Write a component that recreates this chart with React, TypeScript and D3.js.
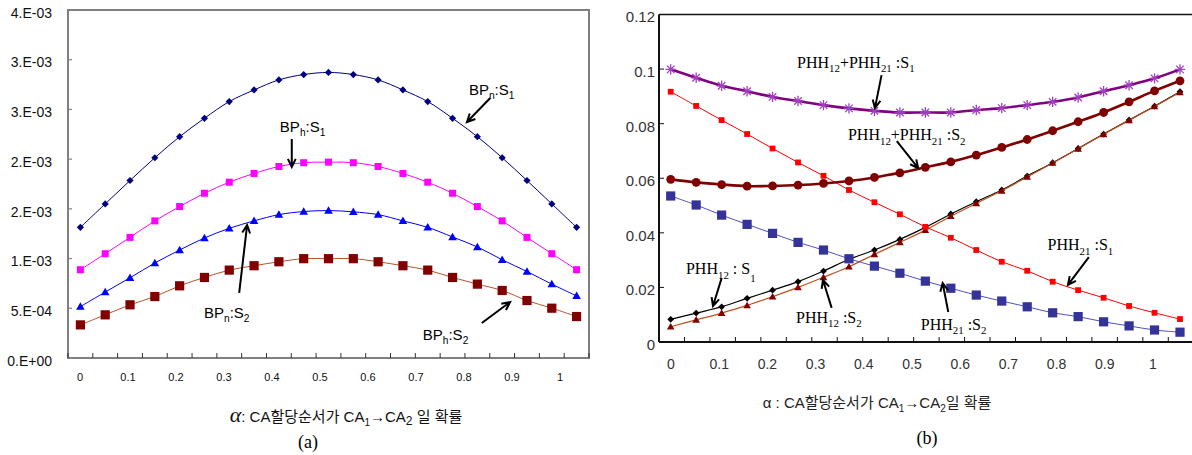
import React from 'react'
import * as d3 from 'd3'

// alpha values (categories) shared by both panels
const alpha = [0, 0.05, 0.1, 0.15, 0.2, 0.25, 0.3, 0.35, 0.4, 0.45, 0.5, 0.55, 0.6, 0.65, 0.7, 0.75, 0.8, 0.85, 0.9, 0.95, 1]
const xTickValues = [0, 0.1, 0.2, 0.3, 0.4, 0.5, 0.6, 0.7, 0.8, 0.9, 1]
const xTickLabels = ['0', '0.1', '0.2', '0.3', '0.4', '0.5', '0.6', '0.7', '0.8', '0.9', '1']

// panel (a), values in units of 1e-3
const bpnS1 = [1.314, 1.55, 1.785, 2.014, 2.226, 2.411, 2.579, 2.696, 2.797, 2.851, 2.872, 2.851, 2.797, 2.696, 2.579, 2.411, 2.226, 2.014, 1.785, 1.55, 1.314]
const bphS1 = [0.888, 1.049, 1.213, 1.379, 1.523, 1.657, 1.768, 1.856, 1.926, 1.964, 1.97, 1.964, 1.926, 1.856, 1.768, 1.657, 1.523, 1.379, 1.213, 1.049, 0.888]
const bpnS2 = [0.517, 0.663, 0.807, 0.955, 1.086, 1.207, 1.304, 1.379, 1.442, 1.473, 1.483, 1.47, 1.442, 1.379, 1.314, 1.217, 1.117, 0.988, 0.87, 0.743, 0.625]
const bphS2 = [0.333, 0.434, 0.535, 0.618, 0.726, 0.81, 0.884, 0.928, 0.968, 0.999, 0.999, 0.999, 0.968, 0.928, 0.884, 0.81, 0.743, 0.679, 0.578, 0.501, 0.417]
const leftYTicks = [0, 0.5, 1, 1.5, 2, 2.5, 3, 3.5]
const leftYLabels = ['0.E+00', '5.E-04', '1.E-03', '2.E-03', '2.E-03', '3.E-03', '3.E-03', '4.E-03']

// panel (b)
const phhSumS1 = [0.0999, 0.0968, 0.0939, 0.0919, 0.0898, 0.0883, 0.0868, 0.0856, 0.0847, 0.0841, 0.0841, 0.0841, 0.085, 0.0857, 0.0868, 0.088, 0.0896, 0.0919, 0.0941, 0.0966, 0.0999]
const phh21S1 = [0.0917, 0.0865, 0.0813, 0.0762, 0.0709, 0.0658, 0.0609, 0.0557, 0.0512, 0.0468, 0.0422, 0.0382, 0.0337, 0.0294, 0.0261, 0.0221, 0.019, 0.0162, 0.0132, 0.0107, 0.0084]
const phhSumS2 = [0.0596, 0.0585, 0.0577, 0.0571, 0.0572, 0.0575, 0.0581, 0.059, 0.0603, 0.062, 0.064, 0.066, 0.0685, 0.0713, 0.0742, 0.0774, 0.0807, 0.0841, 0.088, 0.092, 0.0957]
const phh21S2 = [0.0535, 0.0502, 0.0465, 0.0431, 0.0398, 0.0365, 0.0337, 0.0305, 0.0278, 0.0252, 0.0223, 0.0197, 0.0172, 0.015, 0.0129, 0.0107, 0.0093, 0.0074, 0.0059, 0.0044, 0.0036]
const phh12S1 = [0.0083, 0.0106, 0.0129, 0.016, 0.019, 0.0221, 0.026, 0.0303, 0.0337, 0.0376, 0.042, 0.0469, 0.0514, 0.0557, 0.0608, 0.0657, 0.0709, 0.0762, 0.0813, 0.0864, 0.0917]
const phh12S2 = [0.0056, 0.0081, 0.0106, 0.0134, 0.0166, 0.02, 0.0237, 0.0276, 0.0321, 0.0365, 0.041, 0.0461, 0.0508, 0.0554, 0.0605, 0.0656, 0.0708, 0.0761, 0.0812, 0.0863, 0.0915]
const rightYTicks = [0, 0.02, 0.04, 0.06, 0.08, 0.1, 0.12]
const rightYLabels = ['0', '0.02', '0.04', '0.06', '0.08', '0.1', '0.12']

type Part = { t: string; sub?: boolean; drop?: number }
const sansFont = 'Liberation Sans, Arial, Noto Sans CJK KR, sans-serif'
const serifFont = 'Liberation Serif, Times New Roman, serif'
const korFont = 'Liberation Sans, Noto Sans CJK KR, sans-serif'

function Rich({ x, y, parts, size, font, anchor = 'start', fill = '#000' }: any) {
  let off = 0
  return (
    <text x={x} y={y} fontSize={size} fontFamily={font} textAnchor={anchor} fill={fill}>
      {parts.map((p: Part, i: number) => {
        const target = p.sub ? (p.drop ?? size * 0.28) : 0
        const dy = target - off
        off = target
        return <tspan key={i} dy={dy} fontSize={p.sub ? size * 0.68 : size}>{p.t}</tspan>
      })}
    </text>
  )
}

function Arrow({ x1, y1, x2, y2, w = 2 }: any) {
  const a = Math.atan2(y2 - y1, x2 - x1)
  const L = 9, s = 0.45
  const h1 = [x2 - L * Math.cos(a - s), y2 - L * Math.sin(a - s)]
  const h2 = [x2 - L * Math.cos(a + s), y2 - L * Math.sin(a + s)]
  return (
    <path d={`M${x1},${y1}L${x2},${y2}M${h1[0]},${h1[1]}L${x2},${y2}L${h2[0]},${h2[1]}`}
      stroke="#000" strokeWidth={w} fill="none" />
  )
}

function marker(shape: string, cx: number, cy: number, r: number, fill: string, key: number) {
  if (shape === 'diamond') return <path key={key} d={`M${cx},${cy - r}L${cx + r},${cy}L${cx},${cy + r}L${cx - r},${cy}Z`} fill={fill} />
  if (shape === 'square') return <rect key={key} x={cx - r} y={cy - r} width={2 * r} height={2 * r} fill={fill} />
  if (shape === 'triangle') return <path key={key} d={`M${cx},${cy - r}L${cx + r},${cy + r * 0.75}L${cx - r},${cy + r * 0.75}Z`} fill={fill} />
  if (shape === 'circle') return <circle key={key} cx={cx} cy={cy} r={r} fill={fill} />
  const d = r * 0.72
  return <path key={key} d={`M${cx - r},${cy}L${cx + r},${cy}M${cx},${cy - r}L${cx},${cy + r}M${cx - d},${cy - d}L${cx + d},${cy + d}M${cx - d},${cy + d}L${cx + d},${cy - d}`} stroke={fill} strokeWidth={1.3} fill="none" />
}

export default function App() {
  // ---- panel (a)
  const ax = d3.scaleLinear().domain([0, 1]).range([80.4, 576.6])
  const axLab = d3.scaleLinear().domain([0, 1]).range([80, 560])
  const ay = d3.scaleLinear().domain([0, 3.5]).range([358, 10])
  const aFrame = { l: 68, r: 589, t: 10, b: 358 }

  const leftSeries = [
    { data: bpnS1, line: '#000080', fill: '#000080', shape: 'diamond', r: 3.6, w: 1 },
    { data: bphS1, line: '#FF00FF', fill: '#FF00FF', shape: 'square', r: 3.5, w: 1 },
    { data: bpnS2, line: '#0000FF', fill: '#0000FF', shape: 'triangle', r: 4.3, w: 1 },
    { data: bphS2, line: '#B5522B', fill: '#800000', shape: 'square', r: 4.6, w: 1 },
  ]
  const leftLine = d3.line<number>().x((_, i) => ax(alpha[i])).y(d => ay(d)).curve(d3.curveCatmullRom)

  const leftNotes = [
    { x: 0.783, y: 2.645, sub: 'n', s: '1', a: [0.826, 2.615, 0.779, 2.373] },
    { x: 0.402, y: 2.273, sub: 'h', s: '1', a: [0.426, 2.203, 0.426, 1.921] },
    { x: 0.249, y: 0.402, sub: 'n', s: '2', a: [0.32, 0.654, 0.336, 1.338] },
    { x: 0.69, y: 0.181, sub: 'h', s: '2', a: [0.809, 0.352, 0.866, 0.563] },
  ]

  // ---- panel (b)
  const bx = d3.scaleLinear().domain([0, 1]).range([670.7, 1180])
  const bxLab = d3.scaleLinear().domain([0, 1]).range([671, 1153])
  const by = d3.scaleLinear().domain([0, 0.12]).range([342, 14.5])
  const bFrame = { l: 659, r: 1192, t: 14.5, b: 342 }

  const rightSeries = [
    { data: phh12S1, line: '#000000', fill: '#000000', shape: 'diamond', r: 3.4, w: 1.2 },
    { data: phh12S2, line: '#C0501E', fill: '#800000', shape: 'triangle', r: 3.8, w: 1.2 },
    { data: phh21S2, line: '#5050C0', fill: '#333399', shape: 'square', r: 4.6, w: 1 },
    { data: phh21S1, line: '#FF0000', fill: '#FF0000', shape: 'square', r: 2.9, w: 1 },
    { data: phhSumS2, line: '#800000', fill: '#800000', shape: 'circle', r: 4.4, w: 2.6 },
    { data: phhSumS1, line: '#800080', fill: '#A040C0', shape: 'star', r: 5.2, w: 2.6 },
  ]
  const rightLine = d3.line<number>().x((_, i) => bx(alpha[i])).y(d => by(d)).curve(d3.curveCatmullRom)

  const rightNotes: { x: number; y: number; parts: Part[]; a: number[] }[] = [
    { x: 0.248, y: 0.1004, parts: [{ t: 'PHH' }, { t: '12', sub: true }, { t: '+PHH' }, { t: '21', sub: true }, { t: ' :S' }, { t: '1', sub: true }], a: [0.414, 0.0978, 0.401, 0.0857] },
    { x: 0.348, y: 0.074, parts: [{ t: 'PHH' }, { t: '12', sub: true }, { t: '+PHH' }, { t: '21', sub: true }, { t: ' :S' }, { t: '2', sub: true }], a: [0.444, 0.0736, 0.486, 0.0637] },
    { x: 0.03, y: 0.0249, parts: [{ t: 'PHH' }, { t: '12', sub: true }, { t: ' : S' }, { t: '1', sub: true, drop: 8 }], a: [0.1, 0.0234, 0.083, 0.0132] },
    { x: 0.246, y: 0.007, parts: [{ t: 'PHH' }, { t: '12', sub: true }, { t: ' :S' }, { t: '2', sub: true }], a: [0.316, 0.0125, 0.299, 0.0227] },
    { x: 0.491, y: 0.0044, parts: [{ t: 'PHH' }, { t: '21', sub: true }, { t: ' :S' }, { t: '2', sub: true }], a: [0.545, 0.011, 0.534, 0.0216] },
    { x: 0.74, y: 0.0337, parts: [{ t: 'PHH' }, { t: '21', sub: true }, { t: ' :S' }, { t: '1', sub: true }], a: [0.821, 0.0311, 0.78, 0.0209] },
  ]

  const aBins = d3.range(22).map(k => aFrame.l + (k * (aFrame.r - aFrame.l)) / 21)
  const bStep = bx(alpha[1]) - bx(alpha[0])
  const bBins = d3.range(1, 22).map(k => bFrame.l + k * bStep)

  return (
    <svg width={1192} height={455} style={{ position: 'absolute', left: 0, top: 0, background: '#fff' }}>
      {/* ===== panel (a) ===== */}
      <rect x={aFrame.l} y={aFrame.t} width={aFrame.r - aFrame.l} height={aFrame.b - aFrame.t}
        fill="none" stroke="#808080" strokeWidth={2} />
      {leftYTicks.map((t, i) => (
        <g key={i}>
          <line x1={aFrame.l} x2={aFrame.l + 4} y1={ay(t)} y2={ay(t)} stroke="#808080" strokeWidth={1.2} />
          <text x={52} y={ay(t) + 4} fontSize={14} fontFamily={sansFont} textAnchor="end"
            dominantBaseline="middle" fill="#111">{leftYLabels[i]}</text>
        </g>
      ))}
      {aBins.map((x, i) => (
        <line key={i} x1={x} x2={x} y1={aFrame.b} y2={aFrame.b - 5} stroke="#333" strokeWidth={1} />
      ))}
      {xTickValues.map((t, i) => (
        <text key={i} x={axLab(t)} y={378} fontSize={11} fontFamily={sansFont} textAnchor="middle"
          dominantBaseline="middle" fill="#111">{xTickLabels[i]}</text>
      ))}
      {leftSeries.map((s, si) => (
        <g key={si}>
          <path d={leftLine(s.data) || ''} fill="none" stroke={s.line} strokeWidth={s.w} />
          {s.data.map((v, i) => marker(s.shape, ax(alpha[i]), ay(v), s.r, s.fill, i))}
        </g>
      ))}
      {leftNotes.map((n, i) => (
        <g key={i}>
          <Rich x={ax(n.x)} y={ay(n.y)} size={15} font={sansFont}
            parts={[{ t: 'BP' }, { t: n.sub, sub: true }, { t: ':S' }, { t: n.s, sub: true }]} />
          <Arrow x1={ax(n.a[0])} y1={ay(n.a[1])} x2={ax(n.a[2])} y2={ay(n.a[3])} />
        </g>
      ))}
      <text x={346} y={422} textAnchor="middle" fontFamily={korFont} fontSize={15} fill="#111">
        <tspan fontFamily={serifFont} fontStyle="italic" fontSize={22}>α</tspan>
        <tspan>: CA할당순서가 CA</tspan>
        <tspan dy={4} fontSize={10}>1</tspan>
        <tspan dy={-4}>→CA</tspan>
        <tspan dy={3} fontSize={12}>2</tspan>
        <tspan dy={-3}> 일 확률</tspan>
      </text>
      <text x={308} y={448} textAnchor="middle" fontFamily={serifFont} fontSize={18}>(a)</text>

      {/* ===== panel (b) ===== */}
      <line x1={bFrame.l} x2={bFrame.r} y1={bFrame.t} y2={bFrame.t} stroke="#111" strokeWidth={1.6} />
      <line x1={bFrame.l} x2={bFrame.r} y1={bFrame.b} y2={bFrame.b} stroke="#111" strokeWidth={2} />
      <line x1={bFrame.l} x2={bFrame.l} y1={bFrame.t} y2={bFrame.b} stroke="#111" strokeWidth={2} />
      {rightYTicks.map((t, i) => (
        <g key={i}>
          <line x1={bFrame.l} x2={bFrame.l + 5} y1={by(t)} y2={by(t)} stroke="#111" strokeWidth={1} />
          <text x={655} y={by(t) + 4} fontSize={15} fontFamily={sansFont} textAnchor="end"
            dominantBaseline="middle" fill="#333">{rightYLabels[i]}</text>
        </g>
      ))}
      {bBins.map((x, i) => (
        <line key={i} x1={x} x2={x} y1={bFrame.b} y2={bFrame.b - 5} stroke="#111" strokeWidth={1} />
      ))}
      {xTickValues.map((t, i) => (
        <text key={i} x={bxLab(t)} y={365} fontSize={14} fontFamily={sansFont} textAnchor="middle"
          dominantBaseline="middle" fill="#333">{xTickLabels[i]}</text>
      ))}
      {rightSeries.map((s, si) => (
        <g key={si}>
          <path d={rightLine(s.data) || ''} fill="none" stroke={s.line} strokeWidth={s.w} />
          {s.data.map((v, i) => marker(s.shape, bx(alpha[i]), by(v), s.r, s.fill, i))}
        </g>
      ))}
      {rightNotes.map((n, i) => (
        <g key={i}>
          <Rich x={bx(n.x)} y={by(n.y)} size={16} font={serifFont} parts={n.parts} />
          <Arrow x1={bx(n.a[0])} y1={by(n.a[1])} x2={bx(n.a[2])} y2={by(n.a[3])} />
        </g>
      ))}
      <text x={877} y={408} textAnchor="middle" fontFamily={korFont} fontSize={15} fill="#222">
        <tspan>α : CA할당순서가 CA</tspan>
        <tspan dy={4} fontSize={10}>1</tspan>
        <tspan dy={-4}>→CA</tspan>
        <tspan dy={4} fontSize={10}>2</tspan>
        <tspan dy={-4}>일 확률</tspan>
      </text>
      <text x={927} y={444} textAnchor="middle" fontFamily={serifFont} fontSize={18}>(b)</text>
    </svg>
  )
}
